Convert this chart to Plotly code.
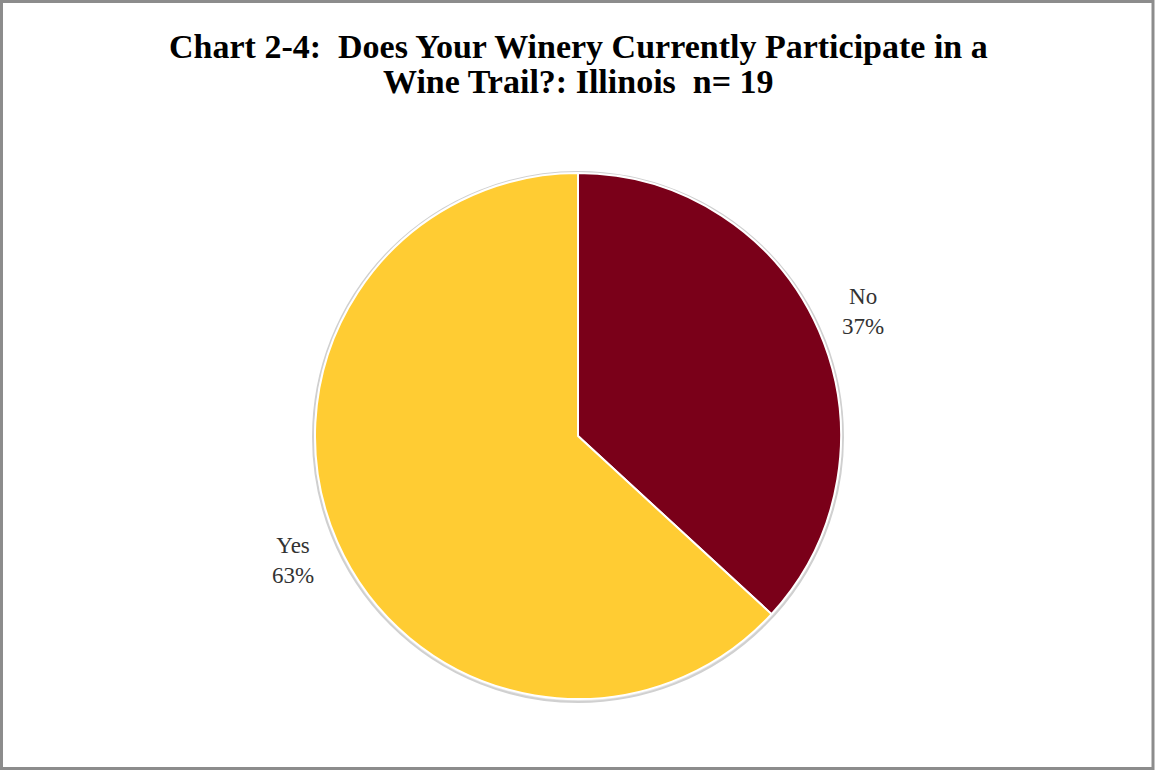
import math
import plotly.graph_objects as go

# Survey responses (count of wineries, n = 19)
labels = ["No", "Yes"]
counts = [7, 12]
colors = ["#7A0019", "#FFCC33"]
title_lines = ["Chart 2-4:  Does Your Winery Currently Participate in a",
               "Wine Trail?: Illinois  n= 19"]

W, H = 1155, 772
cx, cy, r = 578, 436, 263  # pie centre and radius in pixels

total = sum(counts)

fig = go.Figure(go.Pie(
    labels=labels,
    values=counts,
    sort=False,
    direction="clockwise",
    rotation=0,
    marker=dict(colors=colors, line=dict(color="white", width=2)),
    textinfo="none",
    hoverinfo="label+percent",
    showlegend=False,
    domain=dict(x=[(cx - r) / W, (cx + r) / W],
                y=[(H - cy - r) / H, (H - cy + r) / H]),
))

# Category labels placed outside each slice, at its mid-angle
annotations = []
acc = 0
for lab, v in zip(labels, counts):
    mid = (acc + v / 2) / total * 2 * math.pi
    acc += v
    dist = r + 48
    px = cx + dist * math.sin(mid)
    py = cy - dist * math.cos(mid)
    annotations.append(dict(
        x=px / W, y=1 - py / H, xref="paper", yref="paper",
        text=f"{lab}<br>{round(v / total * 100)}%",
        showarrow=False, xanchor="center", yanchor="middle",
        font=dict(family="Liberation Serif", size=23, color="#333333"),
    ))

# Two-line bold title, one annotation per line for tight spacing
for i, line in enumerate(title_lines):
    annotations.append(dict(
        x=578 / W, y=1 - (47 + 34 * i) / H, xref="paper", yref="paper",
        text=f"<b>{line}</b>",
        showarrow=False, xanchor="center", yanchor="middle",
        font=dict(family="Liberation Serif", size=34, color="black"),
    ))

fig.update_layout(
    width=W, height=H,
    margin=dict(l=0, r=0, t=0, b=0),
    paper_bgcolor="white",
    plot_bgcolor="white",
    annotations=annotations,
    shapes=[
        # soft shadow around the pie rim
        dict(type="circle", xref="paper", yref="paper", layer="below",
             x0=(cx - r - 2) / W, x1=(cx + r + 2) / W,
             y0=(H - cy - r - 3) / H, y1=(H - cy + r + 1) / H,
             line=dict(color="#d0d0d0", width=2), fillcolor="#e6e6e6"),
        # outer frame
        dict(type="rect", xref="paper", yref="paper",
             x0=1.5 / W, x1=(W - 2) / W, y0=3.5 / H, y1=1 - 1.5 / H,
             line=dict(color="#8c8c8c", width=3)),
    ],
)

fig.write_html("out.html")
